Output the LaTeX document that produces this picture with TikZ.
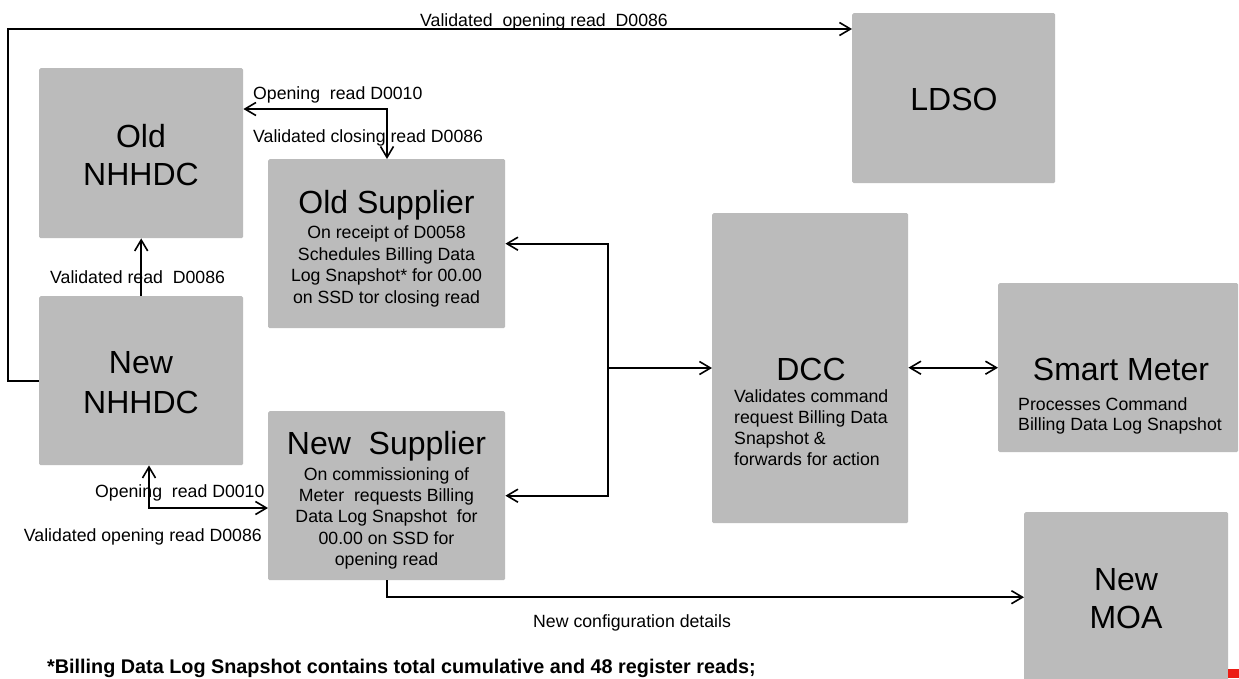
\documentclass[tikz,border=0pt]{standalone}
\usepackage{fontspec}
\setmainfont{Liberation Sans}
\usetikzlibrary{arrows.meta}
\definecolor{boxgray}{RGB}{187,187,187}
\definecolor{markred}{RGB}{236,28,20}
\begin{document}
\begin{tikzpicture}[x=1pt,y=-1pt,
  box/.style={fill=boxgray, rounded corners=1.5pt, inner sep=0pt, anchor=north west},
  conn/.style={line width=1.6pt, draw=black},
  >={Straight Barb[length=11pt,width=13pt]},
  ttl/.style={font=\fontsize{32}{38.5}\selectfont, inner sep=0pt, align=center},
  bodytxt/.style={font=\fontsize{17.7}{21.5}\selectfont, inner sep=0pt},
  lbl/.style={font=\fontsize{17.7}{21}\selectfont, inner sep=0pt},
]
\useasboundingbox (0,0) rectangle (1239,678);

% boxes
\node[box, minimum width=204pt, minimum height=170pt] (oldnhhdc) at (39,68) {};
\node[box, minimum width=204pt, minimum height=169pt] (newnhhdc) at (39,296) {};
\node[box, minimum width=237pt, minimum height=169pt] (oldsup) at (268,159) {};
\node[box, minimum width=237pt, minimum height=169pt] (newsup) at (268,411) {};
\node[box, minimum width=196pt, minimum height=310pt] (dcc) at (712,213) {};
\node[box, minimum width=240pt, minimum height=169pt] (meter) at (998,283) {};
\node[box, minimum width=203pt, minimum height=170pt] (ldso) at (852,13) {};
\node[box, minimum width=204pt, minimum height=170pt] (moa) at (1024,512) {};
\fill[markred] (1228,669) rectangle (1239,678);

% box texts
\node[ttl, anchor=north, font=\fontsize{32}{38.3}\selectfont] (oldnhhdcT) at (141,120.2) {\strut Old\\NHHDC};
\node[ttl, anchor=north, font=\fontsize{32}{40}\selectfont] (newnhhdcT) at (141,345) {\strut New\\NHHDC};
\node[ttl, anchor=base] (ldsoT) at (954,110) {LDSO};
\node[ttl, anchor=north, font=\fontsize{32}{38}\selectfont] (moaT) at (1126,563.4) {\strut New\\MOA};

\node[ttl, anchor=base] (oldsupT) at (386.5,213) {Old Supplier};
\node[bodytxt, align=center, anchor=north, font=\fontsize{17.7}{21.7}\selectfont] (oldsupB) at (386.5,223.1)
  {\strut On receipt of D0058\\Schedules Billing Data\\Log Snapshot* for 00.00\\on SSD tor closing read};

\node[ttl, anchor=base] (newsupT) at (386.5,454) {New\ \ Supplier};
\node[bodytxt, align=center, anchor=north, font=\fontsize{17.7}{21.3}\selectfont] (newsupB) at (386.5,465.1)
  {\strut On commissioning of\\Meter\ \ requests Billing\\Data Log Snapshot\ \ for\\00.00 on SSD for\\opening read};

\node[ttl, anchor=base] (dccT) at (811,380) {DCC};
\node[bodytxt, align=left, anchor=north west, font=\fontsize{17.7}{21.2}\selectfont] (dccB) at (734,387.2)
  {\strut Validates command\\request Billing Data\\Snapshot \&\\forwards for action};

\node[ttl, anchor=base] (meterT) at (1121,380) {Smart Meter};
\node[bodytxt, align=left, anchor=north west, font=\fontsize{17.7}{20}\selectfont] (meterB) at (1018,396)
  {\strut Processes Command\\Billing Data Log Snapshot};

% connectors
\coordinate (c1) at (8,29);
\draw[conn,->] (newnhhdc.west) -| (c1) -- (c1 -| ldso.west);
\coordinate (c2) at (387,109);
\draw[conn,<->] (oldnhhdc.east |- c2) -- (c2) -- (c2 |- oldsup.north);
\draw[conn,->] (newnhhdc.north) -- (oldnhhdc.south);
\coordinate (c4) at (149,508);
\draw[conn,<->] (c4 |- newnhhdc.south) -- (c4) -- (c4 -| newsup.west);
\coordinate (bus) at (608,368);
\draw[conn,<->] (oldsup.east) -| (bus) |- (newsup.east);
\draw[conn,->] (bus) -- (bus -| dcc.west);
\draw[conn,<->] (dcc.east |- meter.west) -- (meter.west);
\draw[conn,->] (newsup.south) |- (moa.west);

% labels
\node[lbl, anchor=base west] (l1) at (420,26.5) {Validated\ \ opening read\ \ D0086};
\node[lbl, anchor=base west] (l2) at (253,99) {Opening\ \ read D0010};
\node[lbl, anchor=base west] (l3) at (253,142) {Validated closing read D0086};
\node[lbl, anchor=base west] (l4) at (50,283) {Validated read\ \ D0086};
\node[lbl, anchor=base west] (l5) at (95,497) {Opening\ \ read D0010};
\node[lbl, anchor=base east] (l6) at (262,541) {Validated opening read D0086};
\node[lbl, anchor=base west] (l7) at (533,627) {New configuration details};
\node[font=\bfseries\fontsize{19.8}{23}\selectfont, inner sep=0pt, anchor=base west] (foot) at (47,673)
  {*Billing Data Log Snapshot contains total cumulative and 48 register reads;};
\end{tikzpicture}
\end{document}
